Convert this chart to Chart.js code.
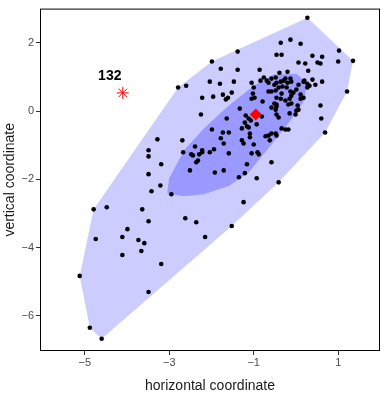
<!DOCTYPE html>
<html><head><meta charset="utf-8">
<script src="https://cdn.jsdelivr.net/npm/chart.js@4/dist/chart.umd.min.js"></script>
<style>html,body{margin:0;padding:0;background:#fff}#wrap{width:387px;height:393px}</style>
</head><body><div id="wrap"><canvas id="c" width="387" height="393"></canvas></div>
<script>
// observations (non-outliers)
const pointsX = [0.27,-0.36,-0.13,0.11,-1.38,1.02,-0.46,-0.34,0.39,0.62,-1.99,0.06,0.22,0.51,0.58,1.00,1.35,-1.78,-1.38,-0.86,0.29,-0.39,-0.20,-2.04,-1.80,-1.47,-1.05,-2.79,-2.60,0.62,1.21,-2.22,-1.96,-1.73,-1.52,-1.61,-1.66,-1.33,-2.25,-1.64,0.58,0.60,0.69,-1.99,-1.73,-1.59,-1.78,-1.71,-2.39,-2.69,-3.28,-3.49,-3.49,-3.19,-3.49,-2.67,-2.48,-2.44,-2.22,-2.22,-2.29,-2.04,-1.94,-1.59,-2.32,-2.36,-2.51,-1.92,-1.71,-1.35,-1.21,-1.16,-0.93,-0.58,-0.41,-3.21,-3.42,-2.95,-4.79,-4.48,-3.64,-1.24,-3.49,-2.62,-2.36,-1.52,-3.99,-4.74,-4.11,-3.73,-3.59,-2.15,-4.11,-3.66,-3.19,-5.12,-3.49,-4.88,-4.60,
 -0.76,-0.69,-0.65,-0.58,-0.48,-0.46,-1.00,-0.65,-0.58,-0.48,-1.02,-1.05,-0.98,-0.79,-0.51,-0.46,-0.36,-0.25,-0.13,-0.11,-0.41,-0.32,-0.22,0.06,0.01,-0.06,-0.11,0.11,0.11,0.18,-0.15,-0.36,-0.46,-0.18,0.04,0.18,0.27,0.32,0.27,0.39,0.46,-0.15,-0.46,-0.48,-0.46,0.01,0.06,-0.01,-0.34,-0.25,-0.18,-0.48,-0.46,-0.81,-0.58,-0.41,-1.12,-1.07,-1.21,-1.16,-0.93,-1.28,-1.09,-1.09,-1.28,-1.24,-1.00,-0.72,-0.65,-0.58,-0.62,-1.05,-0.91,-0.88,-1.19,-0.84,-0.29,-0.20,0.20,-0.51,-0.34,-0.13,-0.25,-0.11,-1.12];
const pointsY = [2.73,2.00,2.09,1.97,1.74,1.77,1.65,1.65,1.62,1.59,1.45,1.42,1.39,1.42,1.39,1.45,1.47,1.24,1.21,1.21,1.18,1.12,1.15,0.86,0.80,0.86,0.83,0.69,0.74,0.86,0.57,0.39,0.42,0.48,0.54,0.39,0.34,0.07,-0.10,-0.22,0.16,-0.22,-0.63,-0.54,-0.63,-0.63,-0.80,-0.95,-1.04,-0.86,-0.83,-1.15,-1.33,-1.56,-1.85,-1.21,-1.27,-1.30,-1.15,-1.21,-1.27,-1.21,-1.12,-1.24,-1.45,-1.50,-1.74,-1.80,-1.74,-1.94,-1.82,-1.56,-1.97,-1.50,-2.09,-2.18,-2.35,-2.44,-2.88,-2.82,-2.88,-2.67,-3.23,-3.14,-3.26,-3.37,-3.46,-3.75,-3.69,-3.78,-3.87,-3.69,-4.22,-4.10,-4.48,-4.83,-5.30,-6.35,-6.67,
 0.98,0.89,0.83,0.95,0.98,0.83,0.69,0.57,0.57,0.60,0.51,0.36,0.39,0.28,0.22,0.39,0.86,0.95,0.95,0.86,0.69,0.72,0.69,0.77,0.63,0.54,0.45,0.48,0.36,0.39,0.36,0.36,0.19,0.19,0.16,0.86,0.80,0.74,0.69,0.92,0.77,-0.07,0.13,0.04,-0.10,0.01,0.04,-0.10,-0.51,-0.54,-0.54,-0.66,-0.72,-0.16,0.10,-0.19,-0.22,-0.28,-0.34,-0.45,-0.39,-0.51,-0.66,-0.77,-0.86,-0.95,-0.98,-0.74,-0.72,-0.66,-0.86,-1.24,-1.21,-1.27,-0.13,0.89,0.89,0.83,0.89,0.77,0.51,0.57,0.31,0.22,-0.48];
// bag (inner 50% depth region) vertices
const bagX = [-3.05,-3.00,-2.65,-2.18,-1.59,-1.00,-0.53,0.01,0.25,0.20,-0.13,-0.65,-1.12,-1.59,-2.18,-2.65];
const bagY = [-2.41,-1.97,-1.15,-0.51,0.16,0.74,1.07,1.09,0.83,0.31,-0.28,-1.09,-1.80,-2.20,-2.44,-2.50];
// depth median
const medianX = [-0.95];
const medianY = [-0.10];
// outlier
const outlierX = [-4.10];
const outlierY = [0.53];
const outlierLabels = ['132'];
// axes
const xTicks = [-5,-3,-1,1];
const yTicks = [-6,-4,-2,0,2];
const xLimits = [-6.06, 1.99];
const yLimits = [-7.03, 3.0];

function hull(pts){
  const p = pts.slice().sort((a,b)=>a.x-b.x||a.y-b.y);
  const cross=(o,a,b)=>(a.x-o.x)*(b.y-o.y)-(a.y-o.y)*(b.x-o.x);
  const lo=[],up=[];
  for(const q of p){while(lo.length>=2&&cross(lo[lo.length-2],lo[lo.length-1],q)<=0)lo.pop();lo.push(q);}
  for(let i=p.length-1;i>=0;i--){const q=p[i];while(up.length>=2&&cross(up[up.length-2],up[up.length-1],q)<=0)up.pop();up.push(q);}
  up.pop();lo.pop();return lo.concat(up);
}
const pts = pointsX.map((x,i)=>({x, y:pointsY[i]}));
const loop = hull(pts); loop.push(loop[0]);
const bag = bagX.map((x,i)=>({x, y:bagY[i]})); bag.push(bag[0]);

const minus = v => (v<0?'\u2212':'')+Math.abs(v);

const framePlugin = {
  id:'frame',
  afterDraw(chart){
    const {ctx, chartArea:a, scales} = chart;
    ctx.save();
    ctx.strokeStyle='#000'; ctx.lineWidth=1;
    ctx.strokeRect(a.left+0.5, a.top+0.5, a.right-a.left-1, a.bottom-a.top-1);
    ctx.fillStyle='#000'; ctx.font='bold 14px "Liberation Sans", Arial, sans-serif';
    ctx.textAlign='center'; ctx.textBaseline='middle';
    outlierLabels.forEach((t,i)=>{
      const px = scales.x.getPixelForValue(outlierX[i]);
      const py = scales.y.getPixelForValue(outlierY[i]);
      ctx.fillText(t, px-13, py-17);
    });
    ctx.restore();
  }
};

new Chart(document.getElementById('c'), {
  type:'scatter',
  data:{datasets:[
    {data: medianX.map((x,i)=>({x,y:medianY[i]})), pointStyle:'rectRot', pointRadius:6, backgroundColor:'#ff0000', borderColor:'#ff0000', borderWidth:0, order:0},
    {data: outlierX.map((x,i)=>({x,y:outlierY[i]})), pointStyle:'star', pointRadius:6, borderColor:'#ff0000', borderWidth:1, backgroundColor:'#ff0000', order:0},
    {data: pts, pointRadius:2.3, backgroundColor:'#000', borderWidth:0, order:1},
    {type:'line', data: bag, showLine:true, fill:'shape', backgroundColor:'rgba(0,0,255,0.25)', borderWidth:0, borderColor:'rgba(0,0,0,0)', pointRadius:0, tension:0, order:3},
    {type:'line', data: loop, showLine:true, fill:'shape', backgroundColor:'rgba(0,0,255,0.2)', borderWidth:0, borderColor:'rgba(0,0,0,0)', pointRadius:0, tension:0, order:4}
  ]},
  options:{
    responsive:false, animation:false, devicePixelRatio:1,
    layout:{padding:{top:7,right:5,left:0,bottom:0}},
    plugins:{legend:{display:false}, tooltip:{enabled:false}},
    scales:{
      x:{type:'linear', min:xLimits[0], max:xLimits[1],
        afterBuildTicks(s){s.ticks = xTicks.map(v=>({value:v}));},
        afterFit(s){s.height=42;},
        grid:{display:true, drawOnChartArea:false, drawTicks:true, tickLength:4, color:'#333'},
        border:{display:false},
        ticks:{callback:v=>minus(v), color:'#4d4d4d', padding:1, maxRotation:0, autoSkip:false, font:{family:'"Liberation Sans", Arial, sans-serif', size:11}},
        title:{display:true, text:'horizontal coordinate', color:'#1a1a1a', padding:{top:4,bottom:-2}, font:{family:'"Liberation Sans", Arial, sans-serif', size:14}}
      },
      y:{type:'linear', min:yLimits[0], max:yLimits[1],
        afterBuildTicks(s){s.ticks = yTicks.map(v=>({value:v}));},
        afterFit(s){s.width=40;},
        grid:{display:true, drawOnChartArea:false, drawTicks:true, tickLength:4, color:'#333'},
        border:{display:false},
        ticks:{callback:v=>minus(v), color:'#4d4d4d', padding:2, autoSkip:false, font:{family:'"Liberation Sans", Arial, sans-serif', size:11}},
        title:{display:true, text:'vertical coordinate', color:'#1a1a1a', padding:{top:2,bottom:0}, font:{family:'"Liberation Sans", Arial, sans-serif', size:14}}
      }
    }
  },
  plugins:[framePlugin]
});
</script></body></html>
